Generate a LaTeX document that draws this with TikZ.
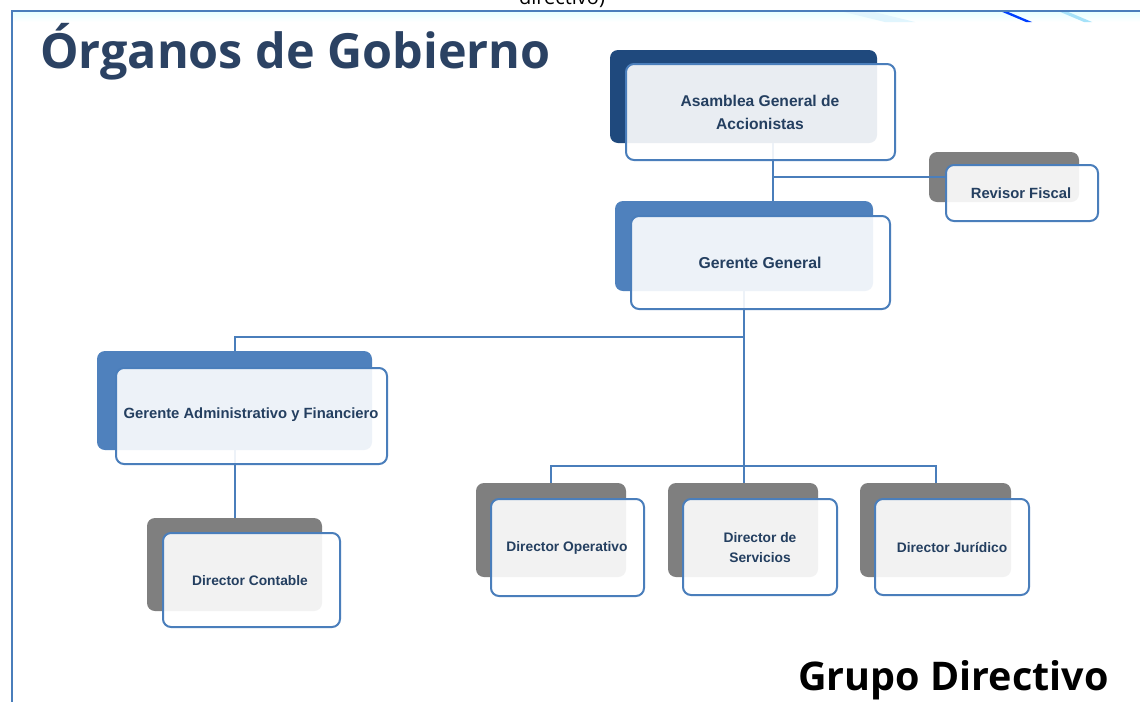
\documentclass[tikz,border=0pt]{standalone}
\usepackage{fontspec}
\setmainfont{Liberation Sans}
\newfontfamily\titlefont{Open Sans}
\usetikzlibrary{fit,calc}
\definecolor{navy}{HTML}{1F497D}
\definecolor{accblue}{HTML}{4F81BD}
\definecolor{backgray}{HTML}{7F7F7F}
\definecolor{edgeblue}{HTML}{4A7EBB}
\definecolor{txtblue}{HTML}{243F60}
\definecolor{titleblue}{HTML}{2B4263}
\begin{document}
\begin{tikzpicture}[x=1pt,y=-1pt,
  backbox/.style={rounded corners=8pt, inner sep=0pt, draw=none},
  frontbox/.style={rounded corners=8pt, inner sep=0pt, draw=edgeblue, line width=2pt,
    fill=white, fill opacity=0.9},
  boxtext/.style={inner sep=0pt, text=txtblue, align=center,
    font=\bfseries\fontsize{14.8}{20}\selectfont},
  smalltext/.style={boxtext, font=\bfseries\fontsize{13.8}{20}\selectfont},
  link/.style={draw=edgeblue, line width=2pt}]
\useasboundingbox (0,0) rectangle (1140,702);
\fill[white] (0,0) rectangle (1140,702);
% frame decoration
\begin{scope}
\clip (0,0) rectangle (1140,702);
\shade[top color=cyan!10, bottom color=white] (12,11) rectangle (1140,22);
\fill[cyan!12] (840,11) -- (870,11) -- (915,22) -- (885,22) -- cycle;
\fill[blue!75!cyan] (1000,11) -- (1006,11) -- (1032,22) -- (1026,22) -- cycle;
\fill[cyan!35] (1058,11) -- (1066,11) -- (1092,22) -- (1084,22) -- cycle;
\node[anchor=base, font=\titlefont\fontsize{20}{20}\selectfont, inner sep=0] (cut) at (562,4) {directivo)};
\end{scope}
\draw[edgeblue, line width=2pt] (1140,11) -- (12,11) -- (12,702);
% titles
\node[anchor=base west, font=\titlefont\bfseries\fontsize{48.5}{48}\selectfont, text=titleblue, inner sep=0] (title) at (40,68) {Órganos de Gobierno};
\node[anchor=base west, font=\titlefont\bfseries\fontsize{39.5}{38}\selectfont, inner sep=0] (grupo) at (798,690) {Grupo Directivo};
% back boxes
\node[backbox, fill=navy, fit={(610,50) (877,143)}] (asamB) {};
\node[backbox, fill=backgray, fit={(929,152) (1079,202)}] (revB) {};
\node[backbox, fill=accblue, fit={(615,201) (873,291)}] (ggB) {};
\node[backbox, fill=accblue, fit={(97,351) (372,450)}] (gaB) {};
\node[backbox, fill=backgray, fit={(147,518) (322,611)}] (dcB) {};
\node[backbox, fill=backgray, fit={(476,483) (626,577)}] (doB) {};
\node[backbox, fill=backgray, fit={(668,483) (818,577)}] (dsB) {};
\node[backbox, fill=backgray, fit={(860,483) (1011,577)}] (djB) {};
% connectors
\coordinate (asamOut) at (773,143);
\coordinate (revIn) at (946,177);
\draw[link] (asamOut) -- (asamOut |- ggB.north);
\draw[link] (asamOut |- revIn) -- (revIn);
\draw[link] (ggB.south) -- (ggB.south |- dsB.north);
\draw[link] (ggB.south |- 0,337) -| (gaB.north);
\draw[link] (gaB.south) -- (dcB.north);
\draw[link] (doB.north) -- ++(0,-17) -| (djB.north);
% front boxes
\node[frontbox, fit={(626,64) (895,160)}] (asamF) {};
\node[frontbox, fit={(946,165) (1098,221)}] (revF) {};
\node[frontbox, fit={(631,216) (890,309)}] (ggF) {};
\node[frontbox, fit={(116,368) (387,464)}] (gaF) {};
\node[frontbox, fit={(163,533) (340,627)}] (dcF) {};
\node[frontbox, fit={(491,499) (644,596)}] (doF) {};
\node[frontbox, fit={(683,499) (837,595)}] (dsF) {};
\node[frontbox, fit={(875,499) (1029,595)}] (djF) {};
% texts
\node[boxtext, font=\bfseries\fontsize{15.6}{23}\selectfont] (asamT) at (760,112.5) {Asamblea General de\\Accionistas};
\node[boxtext] (revT) at (1021,193) {Revisor Fiscal};
\node[boxtext, font=\bfseries\fontsize{15.8}{20}\selectfont] (ggT) at (760,263) {Gerente General};
\node[boxtext] (gaT) at (251,415) {Gerente Administrativo y Financiero};
\node[smalltext] (dcT) at (250,581) {Director Contable};
\node[smalltext] (doT) at (567,548) {Director Operativo};
\node[smalltext] (dsT) at (760,548) {Director de\\Servicios};
\node[smalltext] (djT) at (952,547) {Director Jurídico};
\end{tikzpicture}
\end{document}
